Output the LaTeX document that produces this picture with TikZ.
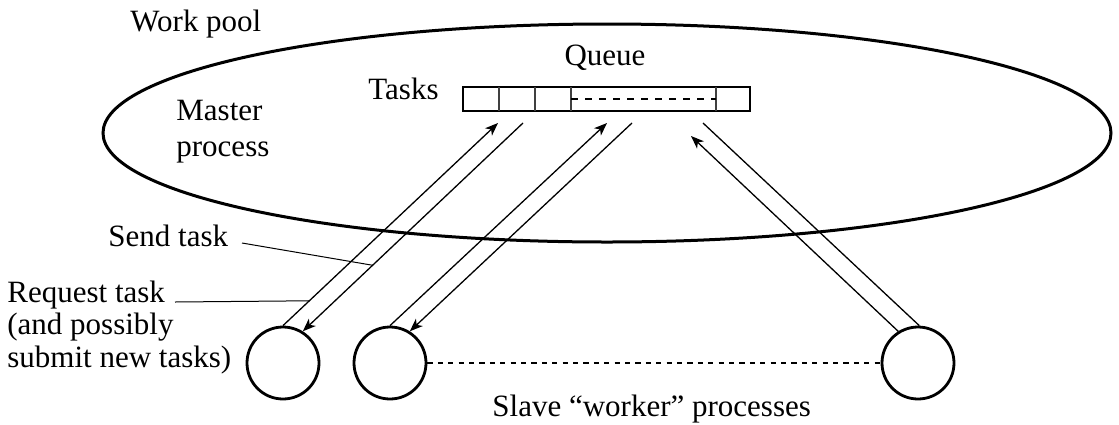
\documentclass[tikz,border=0pt]{standalone}
\usepackage{fontspec}
\setmainfont{Liberation Serif}
\usetikzlibrary{arrows.meta,shapes.geometric}
\begin{document}
\begin{tikzpicture}[x=0.5pt,y=-0.5pt,
  txt/.style={font=\fontsize{15.5}{16.25}\selectfont, inner sep=0pt},
  worker/.style={circle, draw, line width=1.4pt, minimum size=36pt, inner sep=0pt},
  msg/.style={line width=0.65pt},
  tip/.style={-{Stealth[length=6.5pt,width=5pt,inset=1.8pt]}},
  leader/.style={line width=0.5pt},
  cell/.style={line width=0.7pt, black!75}]
\useasboundingbox (0,0) rectangle (1119,424);

% work pool
\node[ellipse, draw, line width=1.5pt, minimum width=504pt, minimum height=109pt, inner sep=0pt] (pool) at (607,133) {};
\node[txt, anchor=base west] (poollbl) at (130,31) {Work pool};
% multi-line nodes: the base anchor sits on the last line
\node[txt, anchor=base west, align=left, font=\fontsize{15.5}{18}\selectfont] (master) at (176,156) {Master\\process};

% task queue
\node[draw, line width=1.2pt, minimum width=143.5pt, minimum height=12pt, inner sep=0pt] (queue) at (606.5,99) {};
\foreach \x in {499,535,571,716}
  \draw[cell] (\x,87) -- (\x,111);
\draw[line width=0.75pt, dash pattern=on 3.5pt off 3.5pt] (571,99) -- (716,99);
\node[txt, anchor=base] (queuelbl) at (605,65) {Queue};
\node[txt, anchor=base west] (taskslbl) at (368,99) {Tasks};

% slaves
\node[worker] (w1) at (283,363) {};
\node[worker] (w2) at (390,363) {};
\node[worker] (w3) at (918,363) {};
\draw[line width=0.75pt, dash pattern=on 2.6pt off 2.6pt] (w2.east) -- (w3.west);
\node[txt, anchor=base west] (slavelbl) at (492,416) {Slave “worker” processes};

% queue ends of the messages
\coordinate (r1) at (498,123); \coordinate (s1) at (523,123);
\coordinate (r2) at (607,123); \coordinate (s2) at (632,123);
\coordinate (r3) at (691,136); \coordinate (s3) at (703,123);

% requests and sends
\draw[msg,tip] (w1.90) -- coordinate[pos=0.1225] (reqpt) (r1);
\draw[msg,tip] (s1) -- coordinate[pos=0.683] (sendpt) (w1.58);
\draw[msg,tip] (w2.90) -- (r2);
\draw[msg,tip] (s2) -- (w2.58);
\draw[msg,tip] (w3.122) -- (r3);
\draw[msg] (s3) -- (w3.88);

% labels with leaders
\node[txt, anchor=base west] (sendlbl) at (108,246) {Send task};
\coordinate (sendfrom) at (242,243);
\draw[leader] (sendfrom) -- (sendpt);
\node[txt, anchor=base west, align=left] (reqlbl) at (7,367) {Request task\\(and possibly\\submit new tasks)};
\coordinate (reqfrom) at (175,302);
\draw[leader] (reqfrom) -- (reqpt);
\end{tikzpicture}
\end{document}
